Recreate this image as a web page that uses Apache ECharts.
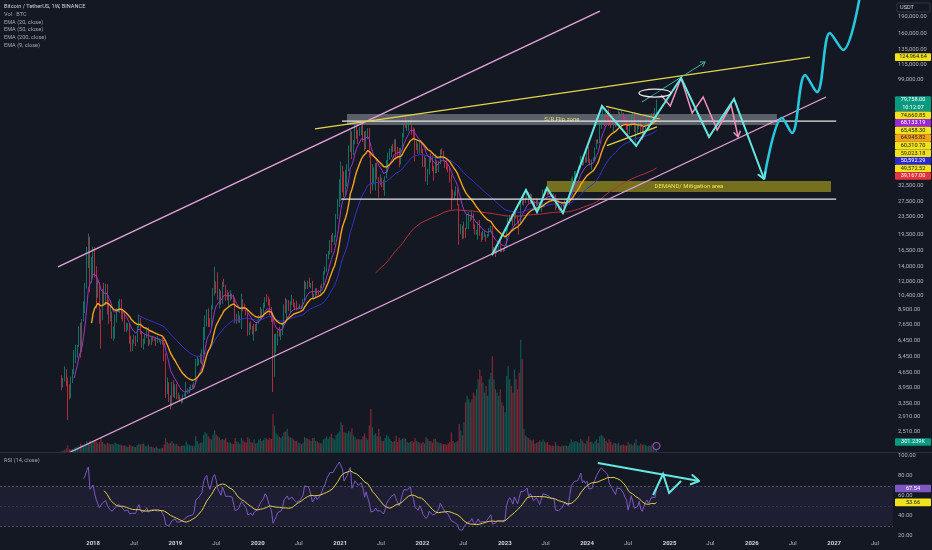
<!DOCTYPE html>
<html><head><meta charset="utf-8">
<script src="https://cdn.jsdelivr.net/npm/echarts@6/dist/echarts.min.js"></script>
<style>html,body{margin:0;padding:0;background:#141823;}#c{width:932px;height:550px;}</style>
</head><body><div id="c"></div>
<script>
// ---------- DATA (weekly BTC/USDT, prices in thousands of USDT) ----------
const firstWeek = '2017-08-14';
const firstOpen = 4.26;
const closes = [
// 2017
4.09,4.31,4.58,4.20,3.70,3.66,4.38,4.60,5.68,6.00,6.15,7.36,5.95,7.99,9.70,11.30,15.10,19.00,13.70,13.80,
// 2018
16.40,13.60,11.50,11.80,8.20, 8.10,10.40,9.60,11.50, 9.50,8.20,8.50,6.90, 7.00,8.30,8.90,9.40,9.60, 8.60,8.20,7.35,7.50, 7.50,6.45,6.05,6.40, 6.75,6.35,7.40,8.20,7.00, 6.30,6.50,6.70,7.20, 6.25,6.50,6.70,6.60, 6.60,6.30,6.40,6.40,6.45, 6.35,5.60,4.00,4.10, 3.60,3.25,3.95,3.85,4.05,
// 2019
3.55,3.55,3.53,3.46, 3.62,3.62,3.85,3.86, 3.95,4.01,4.00,4.15, 5.05,5.07,5.30,5.25,5.76, 7.20,8.20,8.75,8.00, 7.65,8.95,10.85,11.90, 11.25,10.20,10.50,9.50,11.80, 11.55,10.30,10.10,10.40, 10.40,10.30,10.05,8.05,8.20, 8.30,8.20,9.55,9.20, 9.05,8.50,7.30,7.55, 7.50,7.10,7.50,7.30,7.75,
// 2020
8.18,8.70,8.60,9.38, 10.15,9.90,9.70,8.55, 8.05,5.35,5.80,6.25,6.90, 6.85,7.10,7.55,8.90, 8.75,9.70,9.20,9.45, 9.65,9.35,9.30,9.00,9.10, 9.25,9.15,9.95,11.80, 11.60,11.85,11.65,11.70,10.25, 10.35,11.10,10.75,10.65, 11.40,11.35,13.00,13.80, 15.50,15.95,18.40,18.20,19.15, 19.15,23.85,26.27,33.00,
// 2021
38.15,36.00,32.30,33.10, 38.90,48.60,57.50,45.20, 51.00,59.00,57.40,55.80,58.70, 59.80,56.20,49.00,56.60, 58.20,46.40,34.70,35.70,35.80, 39.10,35.50,34.70,35.30, 34.25,31.80,35.40,41.50, 44.40,47.00,49.30,48.80,51.80, 48.30,47.30,42.70,48.20, 54.90,61.50,61.00,61.30, 63.30,65.50,59.70,57.20,49.40, 50.10,46.70,50.80,47.70,
// 2022
41.80,43.10,36.30,37.90,42.40, 42.20,38.40,37.70,38.80, 37.80,42.20,46.80,46.40, 42.20,39.70,39.50,37.60, 34.30,31.30,29.40,29.50,29.90, 26.60,20.55,21.00,19.30, 20.85,20.80,22.60,23.30, 23.20,24.30,21.55,19.55,19.85, 21.80,19.40,18.80,19.30, 19.40,19.20,19.55,20.63,21.30, 16.30,16.70,16.45,17.10, 17.10,16.75,16.85,16.55,
// 2023
17.15,20.90,22.70,23.75,22.95, 21.80,24.60,23.50,22.40, 22.15,28.00,27.50,28.45, 28.35,30.30,27.60,29.25, 28.40,26.90,26.75,28.10,27.10, 25.90,26.35,30.50,30.60, 30.30,30.25,29.85,29.30,29.05, 29.40,26.10,26.10,25.95, 25.85,26.55,26.25,27.95, 27.95,27.15,30.00,34.50,35.00, 37.10,37.40,37.45,39.45, 43.80,41.35,43.00,42.30,
// 2024
43.90,41.75,41.60,42.00,43.00, 48.30,52.10,51.70,63.10, 68.30,68.40,67.20,71.30, 69.40,65.60,64.90,63.10,64.00, 60.80,66.90,69.00,67.80, 69.65,66.60,64.25,62.70, 55.85,60.80,68.15,68.25,58.10, 58.70,59.50,64.20,57.30, 54.85,59.20,63.35,65.60,62.80, 62.85,69.00,67.90,68.75, 79.758
];
const highs = [
4.49,4.37,4.94,4.79,4.39,4.10,4.44,4.79,5.86,6.20,6.17,7.50,7.78,8.10,9.75,11.82,17.20,19.80,19.10,15.50,
17.25,17.18,14.05,12.20,11.90, 8.95,11.10,11.80,11.70, 11.65,9.90,9.20,8.75, 7.50,8.50,9.05,9.75,10.00, 9.95,8.88,8.55,7.80, 7.75,7.70,6.80,6.55, 6.85,6.80,7.55,8.50,8.20, 7.15,6.60,6.90,7.40, 7.41,6.55,6.80,6.79, 6.70,6.65,6.80,6.61,6.48, 6.62,6.50,5.65,4.40, 4.18,3.65,4.20,4.27,4.10,
4.10,3.75,3.65,3.55, 3.68,3.72,4.20,3.92, 3.98,4.08,4.09,4.20, 5.34,5.47,5.35,5.65,5.90, 7.45,8.40,8.95,9.05, 8.18,9.35,11.20,13.97, 12.00,13.20,11.10,10.90,12.00, 12.33,11.60,10.95,10.70, 10.95,10.55,10.40,10.05,8.55, 8.80,8.40,10.54,9.95, 9.50,9.10,8.65,7.80, 7.90,7.55,7.70,7.70,7.85,
8.45,9.19,8.98,9.60, 10.15,10.50,10.25,9.95, 9.18,8.18,6.90,6.95,7.20, 7.45,7.30,7.78,9.45, 10.07,9.95,9.85,9.75, 10.43,9.99,9.60,9.80,9.25, 9.48,9.35,10.00,12.12, 11.90,12.09,12.48,11.80,12.06, 10.58,11.18,11.18,10.95, 11.48,11.72,13.35,14.00, 15.96,16.49,18.48,19.50,19.92, 19.42,24.30,28.40,34.80,
41.95,40.10,37.85,38.53, 40.96,49.70,58.35,57.55, 52.64,61.84,61.15,58.40,60.20, 61.20,64.85,57.50,58.00, 59.60,59.55,46.60,40.85,39.48, 41.30,41.30,35.60,36.70, 35.40,34.65,36.00,42.60, 46.00,48.14,49.40,50.50,52.95, 52.90,48.84,48.40,48.50, 56.56,62.93,67.00,63.73, 64.27,69.00,66.30,59.90,59.18, 51.94,50.80,51.85,52.09,
47.95,44.45,43.50,38.90,44.50, 45.85,44.75,40.00,45.40, 42.55,42.35,47.50,48.20, 47.00,42.45,42.95,40.80, 39.90,36.60,31.35,30.65,32.40, 31.70,26.90,21.85,21.50, 22.40,21.00,24.30,24.70, 23.65,25.20,24.45,21.80,20.55, 22.40,22.80,20.00,20.35, 20.45,19.55,19.70,21.00,21.45, 21.45,17.20,16.80,17.45, 17.45,18.40,16.95,16.95,
17.20,21.25,23.37,23.95,24.25, 23.20,25.25,25.25,23.90, 22.60,28.50,28.90,29.20, 28.80,31.00,30.50,30.05, 29.85,28.60,27.70,28.45,28.40, 27.40,26.80,31.40,31.40, 31.50,31.80,30.35,30.10,29.70, 30.20,29.70,26.80,28.15, 26.10,27.50,27.50,28.05, 28.60,28.00,30.35,35.30,35.95, 37.97,37.98,38.45,40.25, 44.70,44.00,44.30,43.80,
47.00,48.97,43.20,42.85,43.85, 48.60,52.82,52.99,64.00, 69.00,73.78,68.90,71.80, 71.30,72.80,67.20,67.25,64.73, 65.49,67.45,71.95,70.50, 71.98,70.00,67.00,64.50, 63.00,61.40,68.38,70.00,70.08, 62.75,61.80,65.05,64.95, 59.80,60.60,64.10,66.50,66.00, 63.40,69.40,69.50,73.60, 80.30
];
const lows = [
3.85,3.95,4.22,4.00,2.82,3.50,3.55,4.15,4.55,5.10,5.40,6.05,5.40,5.72,7.90,8.60,11.15,13.80,10.70,11.80,
12.75,12.50,9.04,10.10,7.70, 5.95,8.00,9.30,9.35, 8.50,7.70,7.90,6.60, 6.45,6.60,7.80,8.70,8.60, 8.10,7.90,7.10,7.05, 7.20,6.25,5.75,5.80, 6.25,6.10,6.35,7.35,6.90, 6.00,5.88,6.25,6.65, 6.10,6.20,6.15,6.40, 6.45,6.10,6.30,6.35,6.20, 6.20,5.20,3.55,3.70, 3.40,3.15,3.25,3.58,3.55,
3.50,3.50,3.45,3.35, 3.37,3.60,3.60,3.70, 3.73,3.85,3.88,3.90, 4.10,4.95,5.00,5.10,5.05, 5.60,6.50,7.50,7.45, 7.45,7.50,8.95,10.35, 10.60,9.90,9.05,9.40,9.45, 11.30,9.80,9.85,9.30, 9.80,9.95,9.60,7.75,7.70, 7.80,7.80,7.30,8.80, 8.95,8.40,6.80,6.85, 7.25,6.90,6.45,7.10,7.15,
7.70,8.05,8.25,8.30, 9.10,9.70,9.30,8.40, 7.85,3.78,4.44,5.68,6.15, 6.75,6.50,6.85,7.50, 8.60,8.10,8.80,8.63, 9.38,9.15,8.90,8.83,8.95, 9.05,9.00,9.05,9.85, 11.05,11.10,11.35,11.15,10.00, 9.90,10.20,10.35,10.38, 10.55,11.20,11.30,12.90, 13.20,15.10,15.90,16.20,18.10, 17.60,19.00,23.00,26.10,
27.73,30.40,28.85,29.20, 32.30,37.95,46.35,43.00, 44.95,50.30,53.25,50.40,54.80, 55.30,51.50,47.00,47.80, 53.00,43.80,30.00,31.10,33.30, 31.00,34.80,28.80,32.70, 32.10,31.10,29.30,35.25, 37.40,42.80,43.98,46.30,46.50, 42.80,43.37,39.60,40.75, 47.10,53.90,59.50,57.80, 58.00,62.30,55.60,53.25,42.00, 47.30,45.50,45.60,45.90,
39.65,39.65,34.00,32.90,36.60, 41.50,38.00,34.32,37.10, 37.15,37.55,40.80,45.20, 42.10,39.20,38.50,37.50, 33.70,25.40,28.65,28.00,29.30, 26.50,17.60,19.63,18.63, 18.80,18.90,20.75,20.70, 22.40,22.80,20.75,19.55,19.55, 18.55,19.35,18.12,18.47, 19.05,18.19,18.95,19.20,20.05, 15.60,16.00,15.48,16.05, 16.70,16.25,16.30,16.33,
16.50,17.10,20.40,22.30,22.50, 21.45,21.35,23.10,22.00, 19.55,21.90,26.60,26.50, 27.20,28.20,27.00,26.95, 27.00,25.80,26.35,26.30,26.50, 25.35,24.80,26.25,29.50, 29.70,29.50,29.50,29.05,28.60, 28.70,25.20,25.80,25.35, 24.90,24.90,26.00,26.00, 27.20,26.50,26.75,29.80,34.10, 34.50,34.80,35.65,37.20, 39.00,40.20,40.50,41.50,
41.50,41.50,40.30,38.55,41.90, 42.50,47.70,50.55,50.90, 59.00,64.55,60.80,66.60, 64.50,60.80,59.60,62.40,56.55, 60.20,60.75,66.00,66.65, 67.60,65.05,63.35,58.40, 53.50,55.70,60.55,65.75,57.10, 49.00,56.10,58.80,57.20, 52.55,53.60,57.50,62.60,59.80, 58.90,62.40,65.25,66.80, 66.85
];
// weekly volume, thousands of BTC
const volumesK = [
20,40,60,110,200,90,80,90,120,150,140,170,260,220,180,230,330,280,340,260,
330,360,320,260,300, 420,300,250,220, 280,260,230,240, 230,280,250,240,220, 210,190,200,170, 160,220,200,170, 160,150,210,250,230, 240,260,180,170, 230,160,170,140, 120,170,110,100,110, 120,230,420,300, 260,280,330,260,230,
240,190,170,180, 200,190,320,240, 210,200,180,190, 480,330,250,280,290, 520,600,560,480, 400,380,520,650, 520,480,430,360,400, 380,420,300,280, 290,250,240,420,320, 300,250,430,350, 300,290,450,400, 300,280,380,260,270,
380,400,330,370, 420,400,380,420, 400,1150,800,560,520, 460,420,480,600, 620,700,480,440, 420,380,330,340,280, 280,240,280,450, 420,400,380,330,420, 430,330,320,280, 270,260,380,420, 480,400,460,550,420, 380,520,560,620,
900,820,600,580, 560,650,600,720, 500,450,380,400,380, 380,470,560,420, 370,800,1300,750,520, 560,480,700,480, 330,330,420,520, 480,400,330,300,330, 500,300,430,360, 400,420,400,300, 270,310,330,300,420, 330,300,280,260,
300,250,450,400,330, 330,280,400,400, 300,280,270,260, 230,240,210,260, 300,600,330,280,300, 330,850,650,500, 900,1500,1700,1600, 1500,1600,1800,1700,1900, 2200,2500,2300,2100, 1800,2000,1700,2200,2400, 2900,2200,1900,1800, 1700,1900,1500,1400,
1200,2300,2600,2200,2000, 1800,2500,2200,1900, 2400,3400,2800,700, 500,450,420,380, 350,380,250,280,300, 350,300,380,320, 280,300,220,200,200, 180,300,200,180, 170,200,180,200, 190,180,260,380,300, 320,330,300,280, 400,350,280,250,
350,480,300,320,260, 320,380,270,480, 520,480,420,330, 280,380,300,220,280, 260,250,280,200, 210,230,200,190, 300,230,250,200,280, 380,200,200,250, 220,230,210,180,190, 180,230,200,210, 301.239
];
// axis tick labels
const priceTicks = [190000,160000,135000,115000,99000,32500,27500,23500,19500,16500,14000,12000,10400,8900,7650,6450,5450,4650,3950,3350,2910,2510];
const rsiTicks = [20,40,60,80,100];
const timeTicks = ['2018-01-01','2018-07-01','2019-01-01','2019-07-01','2020-01-01','2020-07-01','2021-01-01','2021-07-01','2022-01-01','2022-07-01','2023-01-01','2023-07-01','2024-01-01','2024-07-01','2025-01-01','2025-07-01','2026-01-01','2026-07-01','2027-01-01','2027-07-01'];
const timeRange = ['2016-11-14','2027-09-19'];
const priceRange = [2018, 226900];
// drawings (date, price)
const upperChannel = [['2017-07-29',13950],['2024-02-27',202000]];
const lowerChannel = [['2017-09-15',2002],['2026-11-26',82350]];
const resistanceLine = [['2020-09-11',59023.18],['2026-09-16',124964.64]];
const triUpper = [['2024-03-25',74660.85],['2024-11-19',65458.30]];
const triLower = [['2024-03-29',49572.52],['2024-11-06',60310.70]];
const whiteLineA = [['2021-01-09',64000],['2027-01-10',64000]];
const whiteLineB = [['2021-01-05',28360],['2027-01-10',28360]];
const srZone = ['2021-01-31','2026-04-22',61500,69000,'S/R Flip zone'];
const demandZone = ['2023-07-07','2026-12-18',30520,34240,'DEMAND/ Mitigation area'];
const cyanPath = [['2022-11-05',15800],['2023-04-05',31150],['2023-05-24',24760],['2023-07-07',31820],['2023-09-16',24500],['2024-03-07',74960],['2024-08-06',49380],['2025-02-21',100400],['2025-06-25',54200],['2025-10-14',80650],['2026-02-24',34970]];
const cyanCurve = [['2026-02-24',34970],['2026-05-15',66120],['2026-06-28',56530],['2026-08-25',103600],['2026-10-17',86700],['2026-12-13',160800],['2027-02-10',134600],['2027-04-26',239000]];
const pinkPath = [['2024-11-24',84100],['2025-01-04',74960],['2025-02-21',100400],['2025-04-11',69700],['2025-05-30',82350],['2025-07-31',58350],['2025-10-01',75700],['2025-11-01',54200]];
const tealArrow = [['2024-09-01',78200],['2025-06-08',118800]];
const ellipseAt = ['2024-10-28',85800];
const rsiArrowLine = [['2024-02-18',93],['2025-05-12',75]];
const rsiZigzag = [['2024-10-20',61],['2024-12-03',82],['2024-12-30',63],['2025-02-21',75]];
// right-scale tags: [value, kind]
const priceTags = [[124964.64,'draw'],[79758.00,'last'],[74660.85,'draw'],[68133.19,'ema9'],[65458.30,'draw'],[64945.82,'ema20'],[60310.70,'draw'],[59023.18,'draw'],[50592.29,'ema50'],[49572.52,'draw'],[39167.00,'ema200']];
const countdown = '10:12:07';
const volTag = '301.239K';
const rsiTags = [[67.54,'rsi'],[53.66,'rsima']];
const legendLines = ['Bitcoin / TetherUS, 1W, BINANCE','Vol · BTC','EMA (20, close)','EMA (50, close)','EMA (200, close)','EMA (9, close)'];

// ---------- BUILD ----------
const T = s => Date.parse(s + 'T00:00:00Z');
const L = Math.log;
const WEEK = 7 * 86400000, t0 = T(firstWeek);
const times = closes.map((c, i) => t0 + i * WEEK);
const opens = closes.map((c, i) => i ? closes[i - 1] : firstOpen);
const candles = closes.map((c, i) => {
  const o = opens[i], h = Math.max(highs[i], o, c), l = Math.min(lows[i], o, c);
  return [times[i], L(o * 1000), L(c * 1000), L(l * 1000), L(h * 1000)];
});
const UP = '#089981', DN = '#f23645';
const vols = volumesK.map((v, i) => ({value: [times[i], v], itemStyle: {color: closes[i] >= opens[i] ? 'rgba(8,153,129,0.5)' : 'rgba(242,54,69,0.5)'}}));

function ema(src, n) {
  const out = []; let prev = null; const a = 2 / (n + 1);
  for (let i = 0; i < src.length; i++) {
    if (i < n - 1) { out.push(null); continue; }
    if (prev === null) { let s = 0; for (let j = i - n + 1; j <= i; j++) s += src[j]; prev = s / n; }
    else prev = a * src[i] + (1 - a) * prev;
    out.push(prev);
  }
  return out;
}
function rsiCalc(src, n) {
  const out = new Array(src.length).fill(null); let au = 0, ad = 0;
  for (let i = 1; i < src.length; i++) {
    const ch = src[i] - src[i - 1], u = Math.max(ch, 0), d = Math.max(-ch, 0);
    if (i <= n) { au += u / n; ad += d / n; if (i === n) out[i] = ad === 0 ? 100 : 100 - 100 / (1 + au / ad); }
    else { au = (au * (n - 1) + u) / n; ad = (ad * (n - 1) + d) / n; out[i] = ad === 0 ? 100 : 100 - 100 / (1 + au / ad); }
  }
  return out;
}
function sma(src, n) {
  return src.map((v, i) => {
    if (i < n - 1) return null; let s = 0;
    for (let j = i - n + 1; j <= i; j++) { if (src[j] === null) return null; s += src[j]; }
    return s / n;
  });
}
const emaSeries = (n) => ema(closes, n).map((v, i) => v === null ? null : [times[i], L(v * 1000)]).filter(Boolean);
const rsi = rsiCalc(closes, 14);
const rsiMa = sma(rsi, 14);
const rsiPts = rsi.map((v, i) => v === null ? null : [times[i], v]).filter(Boolean);
const rsiMaPts = rsiMa.map((v, i) => v === null ? null : [times[i], v]).filter(Boolean);
const obBase = rsiPts.map(p => [p[0], 70]);
const obTop = rsiPts.map(p => [p[0], Math.max(p[1] - 70, 0)]);
const osBase = rsiPts.map(p => [p[0], Math.min(p[1], 30)]);
const osTop = rsiPts.map(p => [p[0], 30 - Math.min(p[1], 30)]);

const P = arr => arr.map(p => [T(p[0]), L(p[1])]);
const R = arr => arr.map(p => [T(p[0]), p[1]]);
const FONT = 'Roboto';
const fmtPrice = n => { const s = n.toFixed(2); const [a, b] = s.split('.'); return a.replace(/\B(?=(\d{3})+(?!\d))/g, ',') + '.' + b; };

const xAx = (gi, show) => ({
  type: 'value', gridIndex: gi, min: T(timeRange[0]), max: T(timeRange[1]),
  splitLine: {show: false}, axisLine: {show: false}, axisTick: {show: false},
  axisLabel: show ? {
    show: true, customValues: timeTicks.map(T), margin: 4,
    formatter: v => { const d = new Date(v); return d.getUTCMonth() === 0 ? '{y|' + d.getUTCFullYear() + '}' : '{m|Jul}'; },
    rich: {y: {fontWeight: 'bold', color: '#d1d4dc', fontSize: 6, fontFamily: FONT}, m: {color: '#b2b5be', fontSize: 6, fontFamily: FONT}}
  } : {show: false}
});
const lineS = (data, color, width, extra) => Object.assign({
  type: 'line', xAxisIndex: 0, yAxisIndex: 0, data, showSymbol: false, symbol: 'none',
  lineStyle: {color, width}, z: 6, silent: true
}, extra || {});
const linesS = (coords, color, width, xi, yi) => ({
  type: 'lines', coordinateSystem: 'cartesian2d', xAxisIndex: xi || 0, yAxisIndex: yi || 0, polyline: true,
  data: [{coords}], symbol: ['none', 'none'],
  lineStyle: {color, width, opacity: 1, curveness: 0}, z: 7, silent: true
});
const zone = (z, color, textColor) => [{
  xAxis: T(z[0]), yAxis: L(z[3]), itemStyle: {color},
  label: {show: true, position: 'inside', formatter: z[4], color: textColor, fontSize: 6, fontFamily: FONT}
}, {xAxis: T(z[1]), yAxis: L(z[2])}];

const COL = {cyan: '#66e8e2', pink: '#f291c0', teal: '#3fb5a8'};
const chart = echarts.init(document.getElementById('c'), null, {renderer: 'canvas'});
chart.setOption({
  backgroundColor: '#141823',
  animation: false,
  grid: [
    {left: 0, right: 39, top: 0, height: 452},
    {left: 0, right: 39, top: 300, height: 152},
    {left: 0, right: 39, top: 452, height: 84}
  ],
  xAxis: [xAx(0, false), xAx(1, false), xAx(2, true)],
  yAxis: [
    {type: 'value', gridIndex: 0, position: 'right', min: L(priceRange[0]), max: L(priceRange[1]),
      splitLine: {show: false}, axisLine: {show: false}, axisTick: {show: false},
      axisLabel: {customValues: priceTicks.map(L), margin: 5, color: '#b2b5be', fontSize: 5.8, fontFamily: FONT,
        formatter: v => fmtPrice(Math.round(Math.exp(v)))}},
    {type: 'value', gridIndex: 1, min: 0, max: 4600, show: false},
    {type: 'value', gridIndex: 2, position: 'right', min: 20, max: 104,
      splitLine: {show: false}, axisLine: {show: false}, axisTick: {show: false},
      axisLabel: {customValues: rsiTicks, margin: 5, color: '#b2b5be', fontSize: 5.8, fontFamily: FONT, formatter: v => v.toFixed(2)}}
  ],
  series: [
    {type: 'bar', xAxisIndex: 1, yAxisIndex: 1, data: vols, barWidth: 1.2, z: 1, silent: true},
    {type: 'candlestick', xAxisIndex: 0, yAxisIndex: 0, data: candles, encode: {x: 0, y: [1, 2, 3, 4]}, barWidth: 1.3,
      itemStyle: {color: UP, color0: DN, borderColor: UP, borderColor0: DN, borderWidth: 0.7}, z: 2, silent: true},
    lineS(emaSeries(200), '#b3323b', 1, {z: 3}),
    lineS(emaSeries(50), '#3333c8', 1, {z: 3}),
    lineS(emaSeries(9), '#9c36c9', 1, {z: 3}),
    lineS(emaSeries(20), '#f7a21b', 1.4, {z: 3}),
    // drawings
    lineS(P(whiteLineA), '#e6e6e6', 1.2, {z: 5, markArea: {silent: true, data: [zone(srZone, 'rgba(178,181,190,0.45)', '#d6e05c'), zone(demandZone, 'rgba(196,186,30,0.55)', '#f3e54a')]}}),
    lineS(P(whiteLineB), '#e6e6e6', 1.2),
    lineS(P(upperChannel), '#e7a3dc', 1.3),
    lineS(P(lowerChannel), '#e7a3dc', 1.3),
    lineS(P(resistanceLine), '#e3d64a', 1.2),
    lineS(P(triUpper), '#e3d64a', 1.2),
    lineS(P(triLower), '#e3d64a', 1.2),
    linesS(P(tealArrow), COL.teal, 1),
    linesS(P(pinkPath), COL.pink, 1.5),
    linesS(P(cyanPath), COL.cyan, 2),
    lineS(P(cyanCurve), '#27c6de', 2.6, {smooth: 0.35, z: 7}),
    // RSI pane
    {type: 'line', xAxisIndex: 2, yAxisIndex: 2, data: obBase, stack: 'ob', showSymbol: false, lineStyle: {opacity: 0}, silent: true, z: 2},
    {type: 'line', xAxisIndex: 2, yAxisIndex: 2, data: obTop, stack: 'ob', showSymbol: false, lineStyle: {opacity: 0}, silent: true, z: 2,
      areaStyle: {color: new echarts.graphic.LinearGradient(0, 0, 0, 1, [{offset: 0, color: 'rgba(76,175,80,0.95)'}, {offset: 1, color: 'rgba(76,175,80,0.05)'}])}},
    {type: 'line', xAxisIndex: 2, yAxisIndex: 2, data: osBase, stack: 'os', showSymbol: false, lineStyle: {opacity: 0}, silent: true, z: 2},
    {type: 'line', xAxisIndex: 2, yAxisIndex: 2, data: osTop, stack: 'os', showSymbol: false, lineStyle: {opacity: 0}, silent: true, z: 2,
      areaStyle: {color: 'rgba(242,54,69,0.35)'}},
    {type: 'line', xAxisIndex: 2, yAxisIndex: 2, data: rsiPts, showSymbol: false, symbol: 'none', lineStyle: {color: '#7e57c2', width: 1}, z: 3, silent: true,
      markArea: {silent: true, itemStyle: {color: 'rgba(126,87,194,0.1)'}, data: [[{yAxis: 70}, {yAxis: 30}]]},
      markLine: {silent: true, symbol: 'none', label: {show: false}, lineStyle: {color: 'rgba(120,123,134,0.55)', type: [2, 2], width: 1},
        data: [{yAxis: 70}, {yAxis: 50, lineStyle: {color: 'rgba(120,123,134,0.25)'}}, {yAxis: 30}]}},
    {type: 'line', xAxisIndex: 2, yAxisIndex: 2, data: rsiMaPts, showSymbol: false, symbol: 'none', lineStyle: {color: '#e0cf4c', width: 1}, z: 4, silent: true},
    linesS(R(rsiArrowLine), COL.cyan, 2, 2, 2),
    linesS(R(rsiZigzag), COL.cyan, 2, 2, 2)
  ]
});

// ---------- overlays: tags, legend, ellipse, arrowheads ----------
const tagStyle = {
  draw: ['#f2e21c', '#131722'], last: [UP, '#ffffff'], ema9: ['#9c27d8', '#ffffff'], ema20: ['#f7a21b', '#131722'],
  ema50: ['#2a2ad0', '#ffffff'], ema200: ['#e5333f', '#ffffff'], rsi: ['#7e57c2', '#ffffff'], rsima: ['#f2e21c', '#131722'], vol: [UP, '#ffffff']
};
const g = [];
const TX = 895, TW = 36, TH = 7.6;
function tag(yc, text, kind, sub) {
  const st = tagStyle[kind]; const h = sub ? TH * 2 : TH; const top = yc - TH / 2;
  g.push({type: 'rect', z: 100, shape: {x: TX, y: top, width: TW, height: h, r: 1}, style: {fill: st[0]}});
  g.push({type: 'text', z: 101, style: {text, x: TX + TW / 2, y: yc, fill: st[1], fontSize: 5.6, fontFamily: FONT, align: 'center', verticalAlign: 'middle'}});
  if (sub) g.push({type: 'text', z: 101, style: {text: sub, x: TX + TW / 2, y: yc + TH, fill: st[1], fontSize: 5.6, fontFamily: FONT, align: 'center', verticalAlign: 'middle'}});
  return top + h;
}
let bottom = -1e9;
priceTags.slice().sort((a, b) => b[0] - a[0]).forEach(t => {
  let yc = chart.convertToPixel({yAxisIndex: 0}, L(t[0]));
  if (yc - TH / 2 < bottom) yc = bottom + TH / 2;
  bottom = tag(yc, fmtPrice(t[0]), t[1], t[1] === 'last' ? countdown : null);
});
tag(chart.convertToPixel({yAxisIndex: 1}, volumesK[volumesK.length - 1]), volTag, 'vol');
rsiTags.forEach(t => tag(chart.convertToPixel({yAxisIndex: 2}, t[0]), t[0].toFixed(2), t[1]));
// USDT header
g.push({type: 'rect', z: 100, shape: {x: 897, y: 3, width: 33, height: 9, r: 1}, style: {fill: '#141823', stroke: '#3a3e4a', lineWidth: 0.8}});
g.push({type: 'text', z: 101, style: {text: 'USDT', x: 900, y: 7.6, fill: '#d1d4dc', fontSize: 5.6, fontFamily: FONT, verticalAlign: 'middle'}});
// pane separator
g.push({type: 'line', z: 50, shape: {x1: 0, y1: 452.5, x2: 932, y2: 452.5}, style: {stroke: '#2a2e39', lineWidth: 1}});
// legends
legendLines.forEach((s, i) => g.push({type: 'text', z: 101, style: {text: s, x: 4, y: 6.8 + i * 7.7, fill: i === 0 ? '#d1d4dc' : '#a3a6af', fontSize: 5.6, fontFamily: FONT, verticalAlign: 'middle'}}));
g.push({type: 'text', z: 101, style: {text: 'RSI (14, close)', x: 4, y: 461, fill: '#a3a6af', fontSize: 5.6, fontFamily: FONT, verticalAlign: 'middle'}});
// ellipse
const ep = chart.convertToPixel({gridIndex: 0}, [T(ellipseAt[0]), L(ellipseAt[1])]);
g.push({type: 'ellipse', z: 60, shape: {cx: ep[0], cy: ep[1], rx: 16, ry: 4}, style: {fill: 'rgba(20,24,35,0.3)', stroke: '#eeeeee', lineWidth: 1.2}});
// small marker near last bar on volume baseline
const mp = chart.convertToPixel({gridIndex: 1}, [times[times.length - 1], 0]);
g.push({type: 'circle', z: 60, shape: {cx: mp[0], cy: mp[1] - 6, r: 3.6}, style: {fill: '#1b1f2b', stroke: '#b04fc8', lineWidth: 1}});
// open chevron arrowheads at the ends of arrow drawings
function chevron(pts, gridIndex, conv, color, width, len) {
  const a = chart.convertToPixel({gridIndex}, conv(pts[pts.length - 2]));
  const b = chart.convertToPixel({gridIndex}, conv(pts[pts.length - 1]));
  const ang = Math.atan2(b[1] - a[1], b[0] - a[0]);
  const w1 = [b[0] - len * Math.cos(ang - 0.55), b[1] - len * Math.sin(ang - 0.55)];
  const w2 = [b[0] - len * Math.cos(ang + 0.55), b[1] - len * Math.sin(ang + 0.55)];
  g.push({type: 'polyline', z: 70, shape: {points: [w1, b, w2]}, style: {stroke: color, lineWidth: width, fill: null, lineCap: 'round', lineJoin: 'round'}});
}
const cp = p => [T(p[0]), L(p[1])], cr = p => [T(p[0]), p[1]];
chevron(cyanPath, 0, cp, COL.cyan, 2, 7);
chevron(pinkPath, 0, cp, COL.pink, 1.5, 6);
chevron(tealArrow, 0, cp, COL.teal, 1, 5);
chevron(rsiArrowLine, 2, cr, COL.cyan, 2, 9);
chart.setOption({graphic: g});
</script>
</body></html>
